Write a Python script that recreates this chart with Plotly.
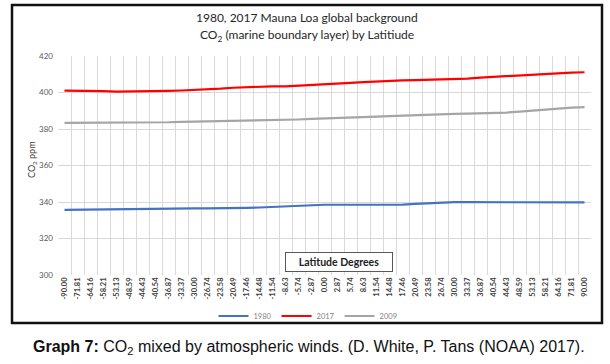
import plotly.graph_objects as go

latitudes = ["-90.00", "-71.81", "-64.16", "-58.21", "-53.13", "-48.59", "-44.43", "-40.54",
             "-36.87", "-33.37", "-30.00", "-26.74", "-23.58", "-20.49", "-17.46", "-14.48",
             "-11.54", "-8.63", "-5.74", "-2.87", "0.00", "2.87", "5.74", "8.63", "11.54",
             "14.48", "17.46", "20.49", "23.58", "26.74", "30.00", "33.37", "36.87", "40.54",
             "44.43", "48.59", "53.13", "58.21", "64.16", "71.81", "90.00"]

co2_1980 = [335.7, 335.8, 335.9, 336.0, 336.1, 336.2, 336.4, 336.5, 336.5, 336.5, 336.5,
            336.5, 336.5, 336.6, 336.8, 337.0, 337.3, 337.7, 338.1, 338.4, 338.5, 338.5,
            338.5, 338.5, 338.5, 338.5, 338.6, 339.0, 339.4, 339.8, 339.9, 339.9, 339.9,
            339.9, 339.9, 339.9, 339.9, 339.9, 339.8, 339.8, 339.8]

co2_2017 = [401.0, 401.0, 401.0, 400.7, 400.5, 400.5, 400.5, 400.6, 400.9, 401.1, 401.3,
            401.6, 402.1, 402.6, 403.0, 403.3, 403.4, 403.4, 403.7, 404.2, 404.5, 404.9,
            405.3, 405.7, 406.1, 406.4, 406.6, 406.8, 406.9, 407.0, 407.1, 407.6, 408.2,
            408.6, 409.0, 409.5, 410.0, 410.4, 410.7, 410.9, 411.1]

co2_2009 = [383.4, 383.4, 383.4, 383.4, 383.4, 383.4, 383.5, 383.6, 383.7, 383.9, 384.0,
            384.1, 384.2, 384.3, 384.4, 384.5, 384.6, 384.9, 385.2, 385.5, 385.7, 386.0,
            386.2, 386.5, 386.8, 387.1, 387.4, 387.7, 387.9, 388.1, 388.3, 388.4, 388.5,
            388.7, 389.0, 389.5, 390.1, 390.7, 391.3, 391.7, 392.0]

y_ticks = [300, 320, 340, 360, 380, 400, 420]

series = [("1980", co2_1980, "#4472C4"), ("2017", co2_2017, "#FF0000"), ("2009", co2_2009, "#A5A5A5")]

fig = go.Figure()
for name, vals, col in series:
    fig.add_trace(go.Scatter(x=latitudes, y=vals, name=name, mode="lines",
                             line=dict(color=col, width=2.2)))

# plot area in pixels: x 58..591, y 56..275
L, R, T, B = 58, 591, 56, 275
W, H = R - L, B - T

def px(x):
    return (x - L) / W

def py(y):
    return (B - y) / H

fig.update_layout(
    width=610, height=364,
    margin=dict(l=L, r=610 - R, t=T, b=364 - B),
    paper_bgcolor="white", plot_bgcolor="white",
    showlegend=True,
    legend=dict(orientation="h", x=px(308), y=py(316), xanchor="center", yanchor="middle",
                font=dict(family="Lato, Arial", size=7.5, color="#7f7f7f"),
                itemwidth=30, tracegroupgap=0, bgcolor="rgba(0,0,0,0)"),
    xaxis=dict(type="category", tickangle=-90, tickson="boundaries", showgrid=True,
               gridcolor="#D9D9D9", gridwidth=1, ticks="", showline=False, zeroline=False,
               tickfont=dict(family="Lato, Arial", size=7.5, color="#404040", weight="bold"),
               range=[-0.5, len(latitudes) - 0.5]),
    yaxis=dict(range=[300, 420], tickvals=y_ticks, showgrid=True, gridcolor="#D9D9D9",
               gridwidth=1, zeroline=False, showline=False, ticks="",
               tickfont=dict(family="Lato, Arial", size=8, color="#595959"),
               ticklabelstandoff=4),
    font=dict(family="Lato, Arial"),
)

annotations = [
    dict(text="1980, 2017 Mauna Loa global background", x=px(307), y=py(18),
         font=dict(size=12, color="#262626", family="Lato, Arial")),
    dict(text="CO<sub>2</sub> (marine boundary layer) by Latitiude", x=px(307), y=py(35),
         font=dict(size=12, color="#262626", family="Lato, Arial")),
    dict(text="CO<sub>2</sub> ppm", x=px(32), y=py(160), textangle=-90,
         font=dict(size=9, color="#404040", family="Lato, Arial")),
    dict(text="<b>Latitude Degrees</b>", x=px(339), y=py(261.5), bgcolor="white",
         bordercolor="#595959", borderwidth=1, borderpad=3,
         font=dict(size=10.5, color="#222222", family="Lato, Arial"), width=100),
    dict(text="<b>Graph 7:</b> CO<sub>2</sub> mixed by atmospheric winds. (D. White, P. Tans (NOAA) 2017).",
         x=px(309), y=py(347),
         font=dict(size=16, color="#111111", family="Liberation Sans, Arial")),
]
for a in annotations:
    a.update(xref="paper", yref="paper", showarrow=False, xanchor="center", yanchor="middle")
    fig.add_annotation(**a)

# outer chart frame
fig.add_shape(type="rect", xref="paper", yref="paper",
              x0=px(12), x1=px(602), y0=py(323), y1=py(5),
              line=dict(color="#111111", width=2.5), layer="above")

fig.write_html("out.html", config={"displayModeBar": False},
               post_script="document.body.style.margin='0';document.body.style.overflow='hidden';")
